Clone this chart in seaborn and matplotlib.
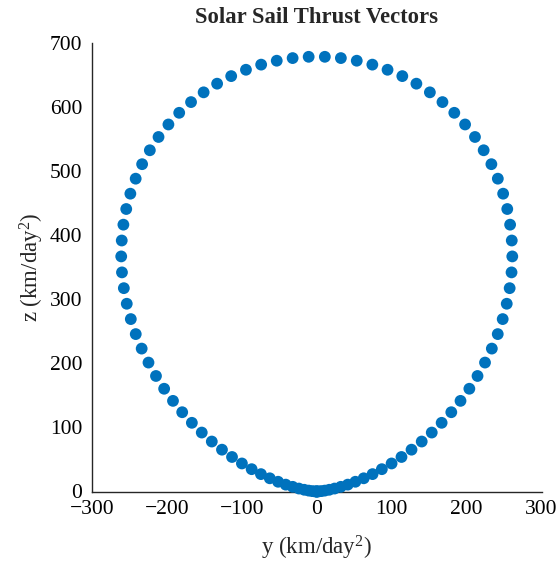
import matplotlib
matplotlib.use("Agg")
import matplotlib.pyplot as plt
import seaborn as sns
import pandas as pd

# Thrust vector components (km/day^2)
y_vals = [
    0.0, -0.7, -2.7, -6.1, -10.8, -16.7, -23.8, -32.1, -41.4, -51.6,
    -62.7, -74.5, -86.9, -99.9, -113.1, -126.5, -140.1, -153.5, -166.7, -179.6,
    -191.9, -203.7, -214.6, -224.6, -233.7, -241.6, -248.2, -253.6, -257.5, -260.0,
    -261.0, -260.3, -258.1, -254.3, -248.8, -241.7, -233.1, -222.8, -211.2, -198.0,
    -183.6, -167.8, -151.0, -133.0, -114.2, -94.5, -74.2, -53.4, -32.2, -10.8,
    10.8, 32.2, 53.4, 74.2, 94.5, 114.2, 133.0, 151.0, 167.8, 183.6,
    198.0, 211.2, 222.8, 233.1, 241.7, 248.8, 254.3, 258.1, 260.3, 261.0,
    260.0, 257.5, 253.6, 248.2, 241.6, 233.7, 224.6, 214.6, 203.7, 191.9,
    179.6, 166.7, 153.5, 140.1, 126.5, 113.1, 99.9, 86.9, 74.5, 62.7,
    51.6, 41.4, 32.1, 23.8, 16.7, 10.8, 6.1, 2.7, 0.7, 0.0,
]
z_vals = [
    0.0, 0.0, 0.2, 0.6, 1.4, 2.7, 4.6, 7.3, 10.7, 15.2,
    20.6, 27.1, 34.8, 43.7, 53.8, 65.2, 77.9, 91.9, 107.1, 123.6,
    141.3, 160.2, 180.1, 201.0, 222.8, 245.4, 268.8, 292.7, 317.0, 341.6,
    366.5, 391.3, 416.0, 440.4, 464.3, 487.7, 510.3, 532.0, 552.7, 572.2,
    590.4, 607.1, 622.3, 635.8, 647.6, 657.5, 665.5, 671.6, 675.7, 677.7,
    677.7, 675.7, 671.6, 665.5, 657.5, 647.6, 635.8, 622.3, 607.1, 590.4,
    572.2, 552.7, 532.0, 510.3, 487.7, 464.3, 440.4, 416.0, 391.3, 366.5,
    341.6, 317.0, 292.7, 268.8, 245.4, 222.8, 201.0, 180.1, 160.2, 141.3,
    123.6, 107.1, 91.9, 77.9, 65.2, 53.8, 43.7, 34.8, 27.1, 20.6,
    15.2, 10.7, 7.3, 4.6, 2.7, 1.4, 0.6, 0.2, 0.0, 0.0,
]
x_ticks = [-300, -200, -100, 0, 100, 200, 300]
y_ticks = [0, 100, 200, 300, 400, 500, 600, 700]

sns.set_theme(style="white")
plt.rcParams["font.family"] = ["Liberation Serif", "DejaVu Serif"]
plt.rcParams["mathtext.fontset"] = "custom"
plt.rcParams["mathtext.rm"] = "Liberation Serif"
plt.rcParams["mathtext.it"] = "Liberation Serif:italic"

df = pd.DataFrame({"y": y_vals, "z": z_vals})

fig = plt.figure(figsize=(5.59, 5.63), dpi=100)
ax = fig.add_axes([92 / 559, (563 - 491.5) / 563, (541.5 - 92) / 559, (491.5 - 42.5) / 563])

sns.scatterplot(data=df, x="y", y="z", ax=ax, color="#0072BD", s=72,
                linewidth=0, edgecolor="none", clip_on=False, zorder=3)

ax.set_xlim(-300, 300)
ax.set_ylim(0, 700)
ax.set_xticks(x_ticks)
ax.set_yticks(y_ticks)
ax.set_xticklabels([f"\u2212{abs(t)}" if t < 0 else str(t) for t in x_ticks])
ax.set_yticklabels([str(t) for t in y_ticks])

for side in ["top", "right"]:
    ax.spines[side].set_visible(False)
for side in ["left", "bottom"]:
    ax.spines[side].set_color("#262626")
    ax.spines[side].set_linewidth(1.0)

ax.tick_params(axis="both", direction="in", length=6.5, width=0.8,
               color="#808080", labelsize=15.5, labelcolor="#000000")
ax.tick_params(axis="y", pad=7)
ax.tick_params(axis="x", pad=6)

ax.set_xlabel("y (km/day$^2$)", fontsize=16.5, labelpad=11)
ax.set_ylabel("z (km/day$^2$)", fontsize=16.5, labelpad=3)
ax.set_title("Solar Sail Thrust Vectors", fontsize=16.3, fontweight="bold", pad=14)

fig.savefig("out.png", dpi=100)
